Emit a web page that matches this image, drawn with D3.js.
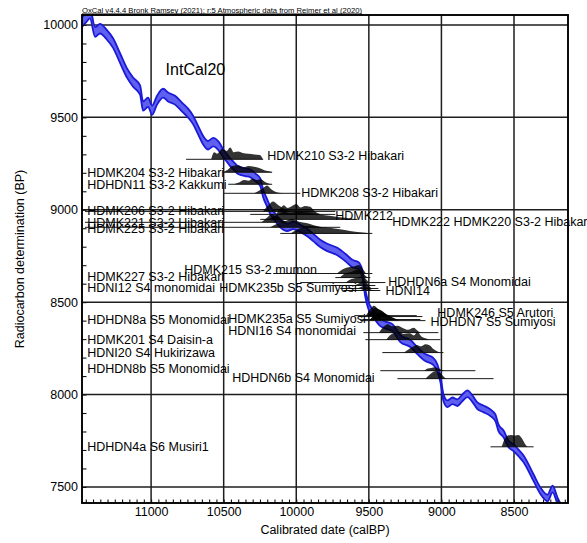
<!DOCTYPE html>
<html><head><meta charset="utf-8">
<script src="https://cdn.jsdelivr.net/npm/d3@7"></script>
<style>body{margin:0;background:#fff}svg{display:block}text{font-family:"Liberation Sans",Arial,Helvetica,sans-serif;fill:#000}</style>
</head><body><svg id="c" width="587" height="543"></svg>
<script>
// ---------- data ----------
const titleText = "OxCal v4.4.4 Bronk Ramsey (2021); r:5 Atmospheric data from Reimer et al (2020)";
const calTicks = [11000, 10500, 10000, 9500, 9000, 8500];
const bpTicks = [10000, 9500, 9000, 8500, 8000, 7500];
const curveName = "IntCal20";
const curveLabelPos = [10900, 9760];
// IntCal20 curve: [calBP, BP, 1-sigma]
const curve = [[11476,10016,26],[11448,10040,26],[11421,10062,26],[11386,9962,26],[11352,9980,26],[11304,9946,26],[11262,9902,26],[11214,9821,26],[11166,9740,25],[11124,9691,25],[11076,9648,25],[11055,9561,25],[11021,9582,25],[10993,9539,25],[10959,9593,24],[10917,9631,24],[10883,9610,24],[10835,9593,24],[10786,9555,24],[10745,9523,24],[10710,9485,23],[10676,9431,23],[10641,9376,23],[10607,9349,23],[10572,9366,23],[10524,9333,23],[10504,9306,21],[10476,9279,21],[10455,9257,21],[10435,9241,21],[10400,9214,21],[10352,9203,21],[10317,9197,21],[10283,9176,21],[10248,9149,21],[10228,9089,21],[10200,9035,21],[10179,8997,21],[10145,8959,21],[10110,8926,21],[10062,8905,20],[10021,8915,20],[9972,8899,20],[9924,8877,20],[9883,8850,20],[9835,8818,20],[9786,8796,20],[9717,8774,20],[9662,8742,20],[9614,8709,20],[9573,8698,19],[9545,8655,19],[9524,8547,19],[9503,8482,19],[9469,8438,19],[9421,8389,19],[9373,8373,19],[9338,8362,19],[9283,8303,19],[9214,8276,19],[9166,8238,19],[9111,8200,19],[9062,8183,19],[9028,8145,19],[9007,8086,19],[8986,7983,18],[8959,7950,18],[8924,7966,18],[8890,7956,18],[8855,7983,18],[8821,8004,18],[8786,7977,18],[8752,7939,18],[8711,7923,18],[8662,7901,18],[8628,7874,18],[8607,7820,18],[8572,7787,18],[8538,7733,18],[8503,7712,18],[8469,7684,18],[8434,7652,18],[8365,7549,18],[8317,7478,18],[8269,7440,18],[8234,7489,18],[8200,7424,18],[8165,7370,18]];

const sampleNames = ["HDMK210 S3-2 Hibakari","HDMK204 S3-2 Hibakari","HDHDN11 S3-2 Kakkumi","HDMK208 S3-2 Hibakari","HDMK206 S3-2 Hibakari","HDMK212","HDMK222","HDMK220 S3-2 Hibakari","HDMK221 S3-2 Hibakari","HDMK225 S3-2 Hibakari","HDMK215 S3-2 mumon","HDMK227 S3-2 Hibakari","HDHDN6a S4 Monomidai","HDNI12 S4 monomidai","HDMK235b S5 Sumiyosi","HDNI14","HDMK246 S5 Arutori","HDMK235a S5 Sumiyosi","HDHDN7 S5 Sumiyosi","HDHDN8a S5 Monomidai","HDNI16 S4 monomidai","HDMK201 S4 Daisin-a","HDNI20 S4 Hukirizawa","HDHDN8b S5 Monomidai","HDHDN6b S4 Monomidai","HDHDN4a S6 Musiri1"];
// radiocarbon age (BP) of each sample
const sampleBP = [9273,9203,9138,9089,8991,8975,8948,8872,8932,8905,8655,8633,8606,8590,8574,8563,8422,8427,8400,8406,8335,8297,8227,8129,8086,7717];
// calibrated range line [from, to] calBP
const sampleRange = [[10759,10228],[10504,10166],[10469,10166],[10504,9972],[11455,9731],[10317,9731],[10248,9579],[10110,9476],[11455,10076],[11455,9697],[10159,9476],[9731,9490],[9972,9386],[9766,9455],[9697,9434],[9676,9421],[9573,9131],[9600,9170],[9559,9110],[9545,9145],[9538,9021],[9524,9007],[9407,8986],[9421,8766],[9303,8641],[8662,8365]];
// calibrated probability (relative) [calBP, p]
const sampleDensity = [
 [[10586,0],[10565,0.5],[10545,0.4],[10510,0.75],[10480,0.6],[10455,0.85],[10430,0.5],[10400,0.55],[10370,0.45],[10330,0.4],[10290,0.35],[10250,0.3],[10230,0]],
 [[10504,0],[10470,0.2],[10441,0.45],[10400,0.5],[10365,0.35],[10330,0.45],[10290,0.4],[10255,0.3],[10220,0.15],[10180,0.05],[10166,0]],
 [[10430,0],[10390,0.15],[10360,0.3],[10330,0.25],[10300,0.4],[10270,0.3],[10245,0.35],[10220,0.2],[10190,0.05],[10170,0]],
 [[10290,0],[10255,0.2],[10225,0.4],[10200,0.55],[10175,0.3],[10140,0.1],[10100,0.03],[10060,0]],
 [[10230,0],[10190,0.45],[10160,0.7],[10130,0.5],[10100,0.3],[10070,0.1],[10040,0]],
 [[10140,0],[10110,0.4],[10085,0.65],[10060,0.45],[10030,0.6],[10000,0.75],[9970,0.5],[9940,0.6],[9905,0.55],[9870,0.2],[9830,0]],
 [[10190,0],[10130,0.35],[10080,0.55],[10040,0.45],[9990,0.55],[9940,0.5],[9890,0.45],[9835,0.35],[9770,0.25],[9700,0.15],[9630,0.07],[9580,0]],
 [[10040,0],[9980,0.35],[9910,0.55],[9840,0.45],[9770,0.4],[9700,0.3],[9630,0.18],[9560,0.08],[9490,0]],
 [[10240,0],[10200,0.35],[10170,0.6],[10140,0.45],[10100,0.2],[10060,0]],
 [[10180,0],[10120,0.3],[10075,0.45],[10030,0.6],[9980,0.4],[9930,0.3],[9880,0.15],[9820,0]],
 [[9720,0],[9680,0.3],[9640,0.45],[9600,0.5],[9570,0.6],[9545,0.35],[9520,0]],
 [[9700,0],[9660,0.3],[9620,0.4],[9580,0.55],[9550,0.45],[9525,0.15],[9505,0]],
 [[9660,0],[9620,0.25],[9580,0.35],[9550,0.45],[9525,0.3],[9500,0]],
 [[9600,0],[9560,0.2],[9535,0.35],[9515,0.2],[9495,0]],
 [[9580,0],[9545,0.15],[9525,0.3],[9505,0.2],[9480,0]],
 [[9560,0],[9535,0.15],[9515,0.25],[9495,0.12],[9470,0]],
 [[9510,0],[9480,0.4],[9455,0.65],[9430,0.5],[9400,0.3],[9370,0.1],[9340,0]],
 [[9520,0],[9490,0.45],[9465,0.7],[9440,0.5],[9410,0.35],[9380,0.1],[9350,0]],
 [[9500,0],[9470,0.3],[9440,0.45],[9410,0.55],[9380,0.4],[9350,0.3],[9320,0.15],[9290,0]],
 [[9490,0],[9460,0.35],[9430,0.5],[9395,0.45],[9365,0.25],[9335,0.1],[9310,0]],
 [[9430,0],[9400,0.4],[9370,0.6],[9340,0.45],[9300,0.5],[9270,0.35],[9230,0.2],[9190,0.35],[9160,0.1],[9130,0]],
 [[9380,0],[9350,0.35],[9320,0.5],[9290,0.55],[9260,0.4],[9220,0.45],[9190,0.3],[9165,0.55],[9140,0.25],[9110,0.1],[9080,0]],
 [[9260,0],[9230,0.2],[9200,0.4],[9170,0.55],[9140,0.45],[9110,0.6],[9080,0.5],[9060,0.3],[9030,0.1],[9010,0]],
 [[9120,0],[9095,0.15],[9070,0.2],[9045,0.25],[9020,0.15],[8995,0.05],[8980,0]],
 [[9110,0],[9080,0.3],[9055,0.5],[9035,0.55],[9010,0.4],[8990,0.2],[8970,0]],
 [[8585,0],[8565,0.55],[8545,0.8],[8520,0.85],[8495,0.8],[8470,0.85],[8445,0.6],[8420,0.15],[8405,0]]
];
// label anchor [calBP, BP]
const labelPos = [[10200,9295],[11440,9203],[11440,9138],[9966,9094],[11440,8997],[9731,8970],[9338,8937],[8917,8937],[11440,8932],[11440,8899],[10772,8677],[11440,8639],[9366,8612],[11440,8579],[10531,8579],[9386,8563],[9028,8444],[10469,8411],[9076,8395],[11440,8406],[10469,8346],[11440,8297],[11440,8227],[11440,8140],[10441,8091],[11440,7717]];

// ---------- drawing ----------
const svg = d3.select("#c");
const L = 82, R = 568, T = 15, B = 503;
const x = d3.scaleLinear().domain([11476, 8128]).range([L, R]);
const y = d3.scaleLinear().domain([7413, 10054]).range([B, T]);
const hScale = d3.scaleLinear().domain([0, 1]).range([0, 14]);

svg.append("defs").append("clipPath").attr("id", "clip")
  .append("rect").attr("x", L).attr("y", T).attr("width", R - L).attr("height", B - T);

// grid
const grid = svg.append("g").attr("stroke", "#1e1e1e").attr("stroke-width", 1.5);
grid.selectAll(".gx").data(calTicks).join("line")
  .attr("x1", d => x(d)).attr("x2", d => x(d)).attr("y1", T).attr("y2", B);
grid.selectAll(".gy").data(bpTicks).join("line")
  .attr("y1", d => y(d)).attr("y2", d => y(d)).attr("x1", L).attr("x2", R);

const plot = svg.append("g").attr("clip-path", "url(#clip)");

// calibration curve band
const band = d3.area().x(d => x(d[0])).y0(d => y(d[1] - d[2])).y1(d => y(d[1] + d[2])).curve(d3.curveMonotoneX);
plot.append("path").datum(curve).attr("d", band).attr("fill", "#5f5ff0").attr("stroke", "none");
const edge = s => d3.line().x(d => x(d[0])).y(d => y(d[1] + s * d[2])).curve(d3.curveMonotoneX);
[1, -1].forEach(s => plot.append("path").datum(curve).attr("d", edge(s))
  .attr("fill", "none").attr("stroke", "#1a1ad8").attr("stroke-width", 1.8));

// labels
const fs = 12.5;
svg.append("g").selectAll("text").data(sampleNames).join("text")
  .attr("x", (d, i) => x(labelPos[i][0])).attr("y", (d, i) => y(labelPos[i][1]))
  .attr("dy", "0.36em").attr("font-size", fs).text(d => d);

// sample range lines
plot.append("g").selectAll("line").data(sampleRange).join("line")
  .attr("x1", d => x(d[0])).attr("x2", d => x(d[1]))
  .attr("y1", (d, i) => y(sampleBP[i])).attr("y2", (d, i) => y(sampleBP[i]))
  .attr("stroke", "#1a1a1a").attr("stroke-width", 1);

// distributions
plot.append("g").selectAll("path").data(sampleDensity).join("path")
  .attr("d", (d, i) => d3.area().x(p => x(p[0])).y0(y(sampleBP[i]))
     .y1(p => y(sampleBP[i]) - hScale(p[1])).curve(d3.curveMonotoneX)(d))
  .attr("fill", "#000").attr("fill-opacity", 0.8);

// curve name
svg.append("text").attr("x", x(curveLabelPos[0])).attr("y", y(curveLabelPos[1]))
  .attr("font-size", 16).attr("dy", "0.36em").text(curveName);

// axes (minor ticks inward)
const axB = svg.append("g").attr("transform", `translate(0,${B})`)
  .call(d3.axisBottom(x).tickValues(d3.range(8150, 11476, 50)).tickSize(-3.5).tickFormat(""));
const axB2 = svg.append("g").attr("transform", `translate(0,${B})`)
  .call(d3.axisBottom(x).tickValues(calTicks).tickSize(0).tickPadding(4).tickFormat(d3.format("d")));
const axL = svg.append("g").attr("transform", `translate(${L},0)`)
  .call(d3.axisLeft(y).tickValues(d3.range(7500, 10001, 100)).tickSize(-4.5).tickFormat(""));
const axL2 = svg.append("g").attr("transform", `translate(${L},0)`)
  .call(d3.axisLeft(y).tickValues(bpTicks).tickSize(0).tickPadding(4).tickFormat(d3.format("d")));
[axB, axB2, axL, axL2].forEach(g => {
  g.select(".domain").remove();
  g.selectAll("line").attr("stroke", "#111").attr("stroke-width", 1.1);
  g.selectAll("text").attr("font-size", fs).attr("font-family", '"Liberation Sans",Arial,sans-serif').attr("fill", "#000");
});

// frame
svg.append("rect").attr("x", L).attr("y", T).attr("width", R - L).attr("height", B - T)
  .attr("fill", "none").attr("stroke", "#000").attr("stroke-width", 1.9);

// title
svg.append("text").attr("x", L).attr("y", 12.5).attr("font-size", 7)
  .attr("textLength", 280).attr("lengthAdjust", "spacingAndGlyphs")
  .attr("text-decoration", "underline").text(titleText);

// axis titles
svg.append("text").attr("x", (L + R) / 2).attr("y", 534).attr("text-anchor", "middle")
  .attr("font-size", fs).text("Calibrated date (calBP)");
svg.append("text").attr("transform", `translate(24,${(T + B) / 2}) rotate(-90)`)
  .attr("text-anchor", "middle").attr("font-size", fs).text("Radiocarbon determination (BP)");
</script></body></html>
